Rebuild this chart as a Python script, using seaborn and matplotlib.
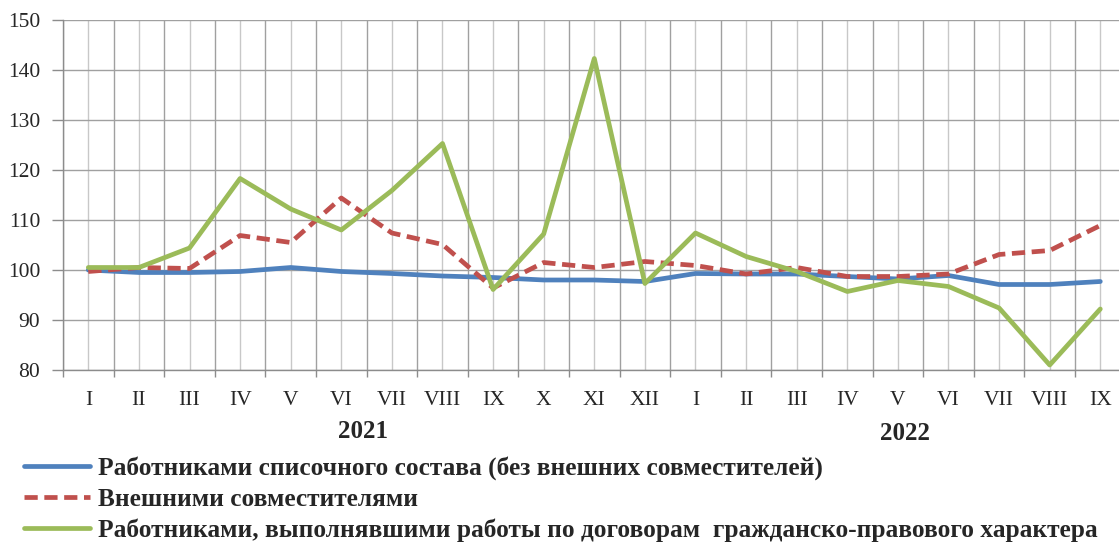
import pandas as pd
import seaborn as sns
import matplotlib.pyplot as plt
from matplotlib.ticker import MultipleLocator

months = ['I', 'II', 'III', 'IV', 'V', 'VI', 'VII', 'VIII', 'IX', 'X', 'XI', 'XII',
          'I', 'II', 'III', 'IV', 'V', 'VI', 'VII', 'VIII', 'IX']
years = ['2021', '2022']

staff = [100.0, 99.5, 99.5, 99.7, 100.5, 99.7, 99.3, 98.8, 98.5, 98.0, 98.0, 97.7,
         99.3, 99.2, 99.2, 98.7, 98.2, 98.9, 97.1, 97.1, 97.7]
external = [99.7, 100.5, 100.3, 106.9, 105.5, 114.4, 107.4, 105.1, 96.4, 101.5, 100.5, 101.7,
            100.9, 99.2, 100.5, 98.7, 98.7, 99.2, 103.1, 103.9, 108.9]
civil = [100.5, 100.5, 104.4, 118.3, 112.2, 108.0, 115.9, 125.3, 96.1, 107.2, 142.3, 97.3,
         107.4, 102.7, 99.7, 95.7, 97.9, 96.7, 92.4, 81.0, 92.2]

names = ['Работниками списочного состава (без внешних совместителей)',
         'Внешними совместителями',
         'Работниками, выполнявшими работы по договорам  гражданско-правового характера']

df = pd.DataFrame({'pos': range(len(months)), names[0]: staff, names[1]: external, names[2]: civil})
df = df.melt(id_vars='pos', var_name='series', value_name='value')

sns.set_style('white')
plt.rcParams['font.family'] = ['Liberation Serif', 'DejaVu Serif']

fig = plt.figure(figsize=(11.19, 5.43), dpi=100)
ax = fig.add_axes([63 / 1119, 173 / 543, 1062.6 / 1119, 350 / 543])

palette = {names[0]: '#4F81BD', names[1]: '#C0504D', names[2]: '#9BBB59'}
dashes = {names[0]: '', names[1]: (2.8, 1.4), names[2]: ''}
sns.lineplot(data=df, x='pos', y='value', hue='series', style='series', palette=palette,
             dashes=dashes, linewidth=3.4, ax=ax, legend='brief')

ax.set_xlim(-0.5, len(months) - 0.5)
ax.set_ylim(80, 150)
ax.yaxis.set_major_locator(MultipleLocator(10))
ax.set_xticks([i - 0.5 for i in range(len(months) + 1)])
ax.set_xticklabels([])
ax.set_xticks(range(len(months)), minor=True)
ax.set_xticklabels(months, minor=True)
ax.tick_params(axis='x', which='major', length=5, width=1, color='#8C8C8C', direction='out', bottom=True)
ax.tick_params(axis='x', which='minor', length=0, pad=15, labelsize=15.5)
ax.tick_params(axis='y', length=8, width=1, color='#8C8C8C', left=True, pad=8.5, labelsize=15.5)
ax.grid(True, which='major', color='#A0A0A0', linewidth=1)
ax.grid(True, which='minor', axis='x', color='#C8C8C8', linewidth=1)
ax.set_axisbelow(True)
for s in ['top', 'right']:
    ax.spines[s].set_visible(False)
for s in ['left', 'bottom']:
    ax.spines[s].set_color('#8C8C8C')
    ax.spines[s].set_linewidth(1)
ax.set_xlabel('')
ax.set_ylabel('')

fig.text(363 / 1119, 1 - 431 / 543, years[0], ha='center', va='center', fontsize=18, fontweight='bold')
fig.text(905 / 1119, 1 - 433 / 543, years[1], ha='center', va='center', fontsize=18, fontweight='bold')

handles, labels = ax.get_legend_handles_labels()
ax.legend_.remove()
fig.legend(handles, labels, loc='upper left', bbox_to_anchor=(24 / 1119, 1 - 456 / 543),
           frameon=False, prop={'weight': 'bold', 'size': 18.3}, handlelength=2.6,
           handletextpad=0.3, labelspacing=0.3, borderpad=0, borderaxespad=0)

fig.savefig('out.png', dpi=100)
